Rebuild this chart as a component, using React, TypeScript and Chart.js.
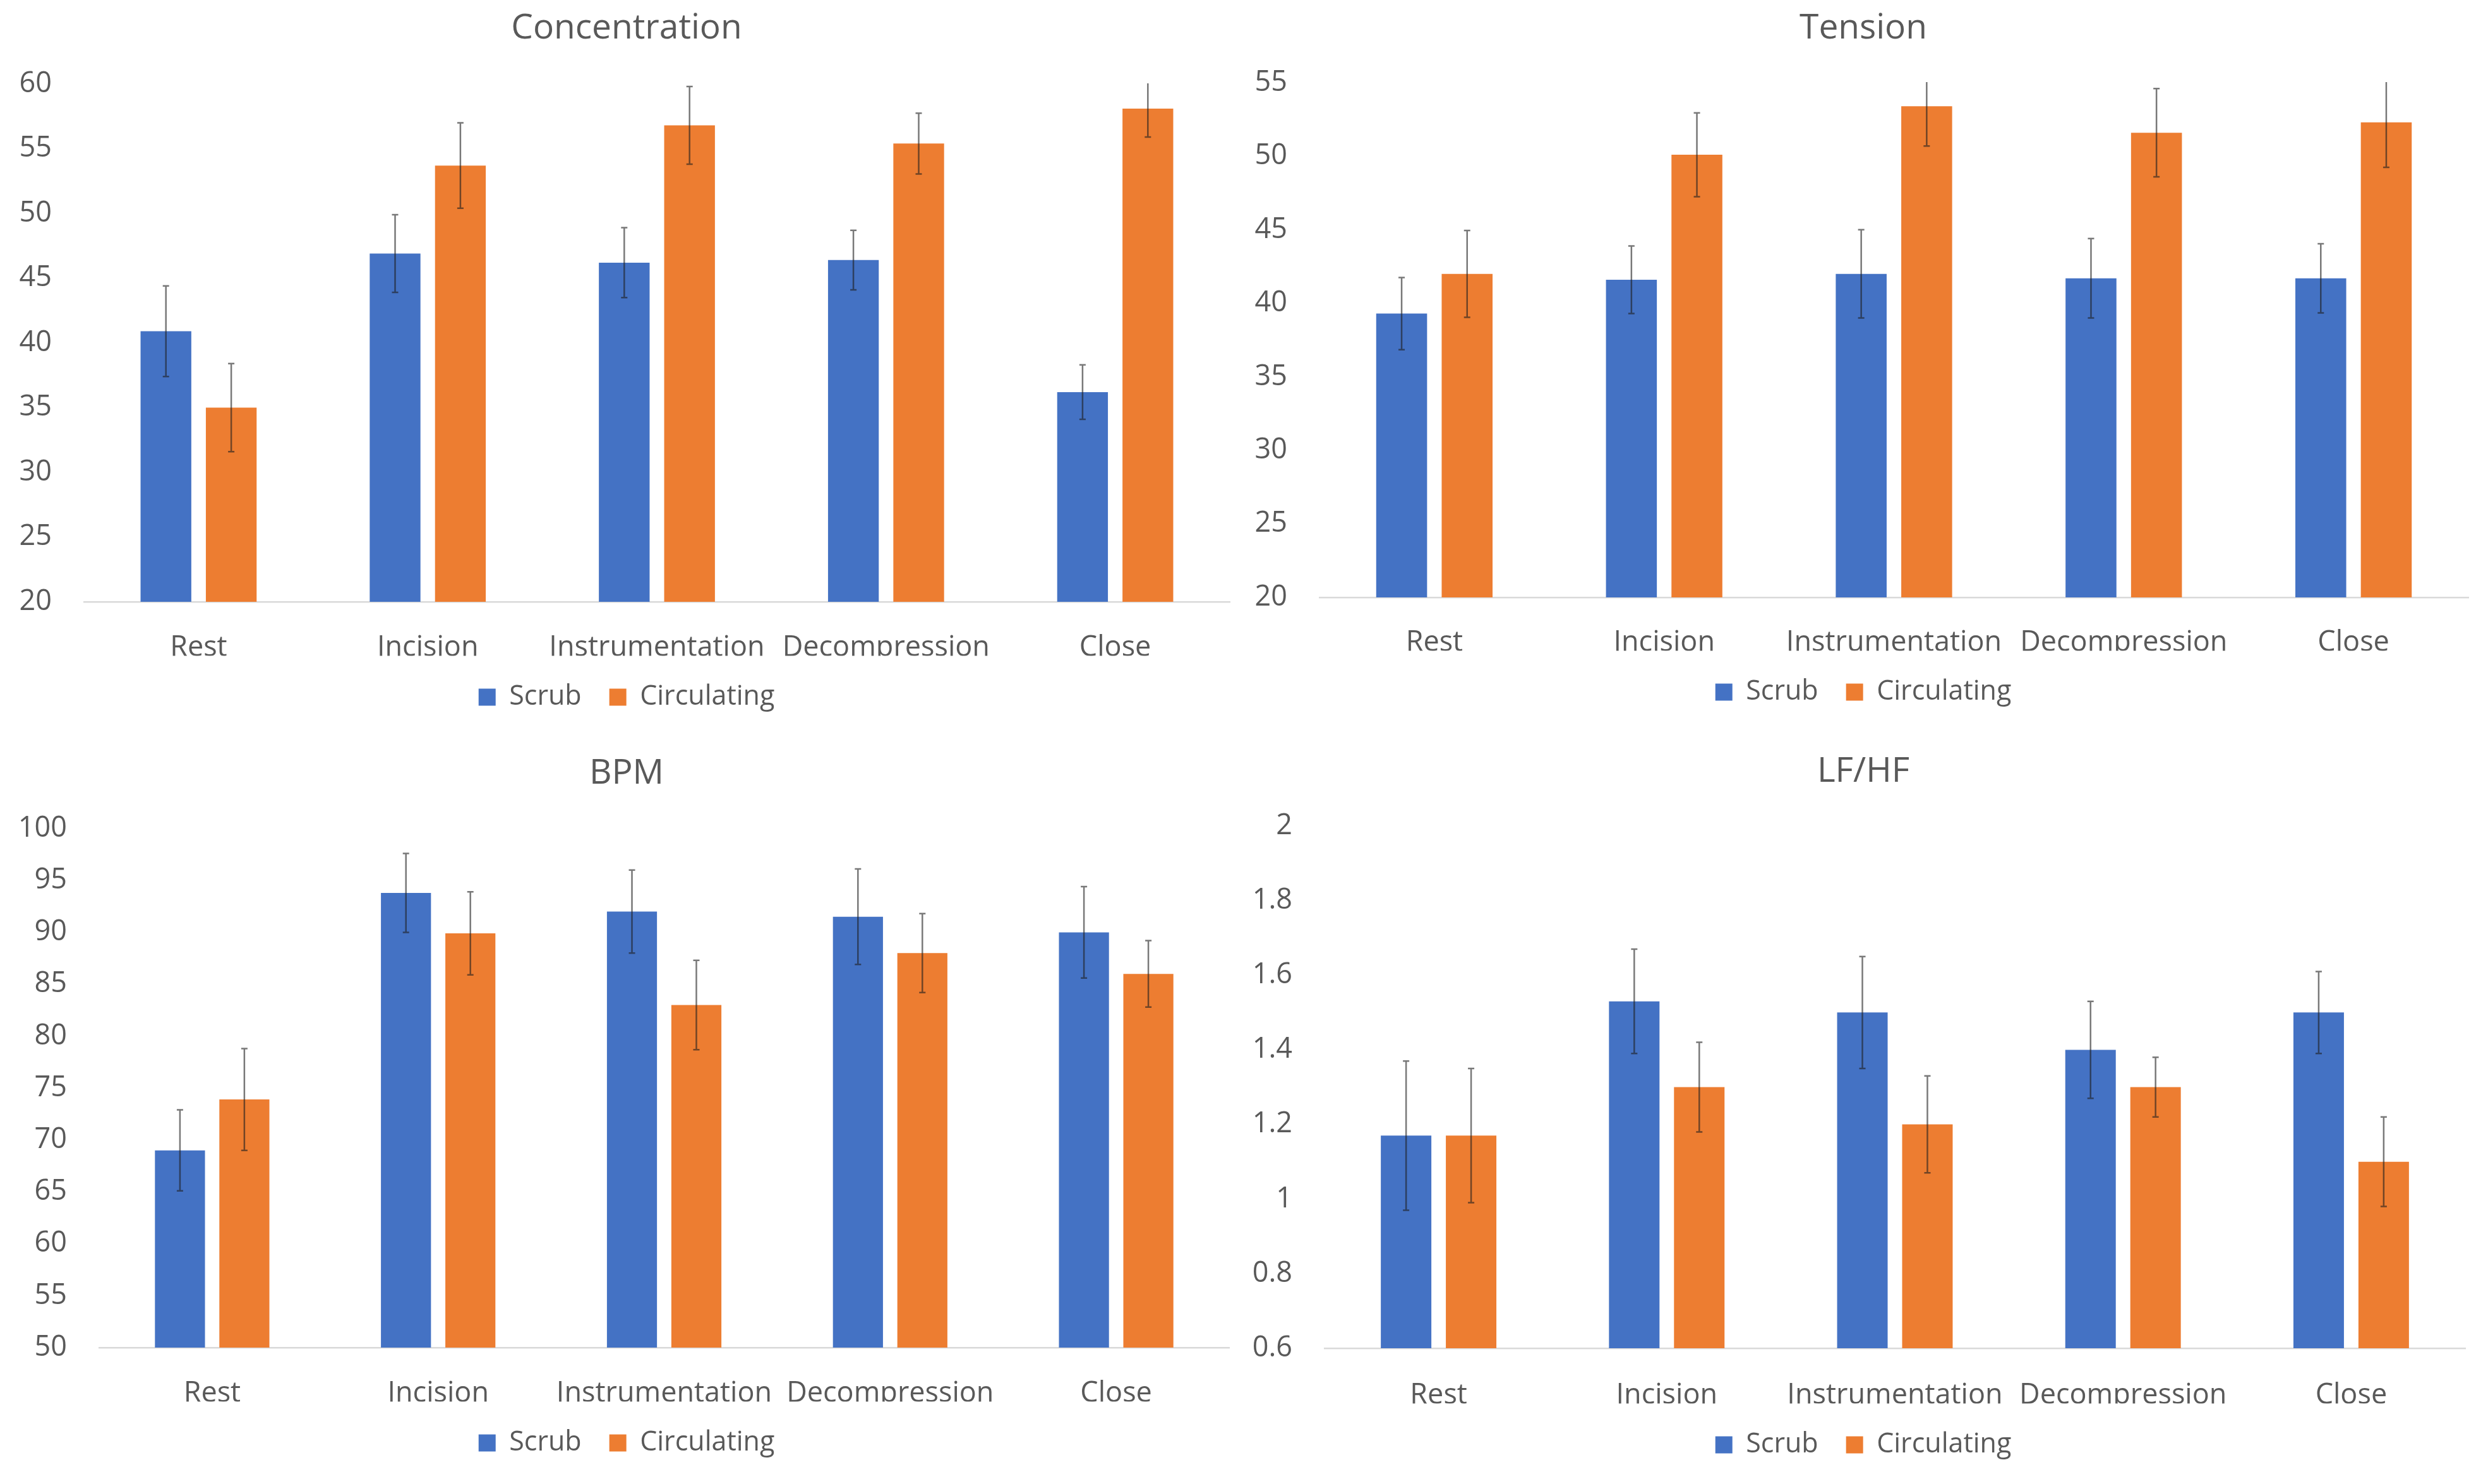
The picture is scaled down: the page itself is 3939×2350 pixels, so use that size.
import React, { useEffect, useRef } from "react";
import { Chart, registerables } from "chart.js";

Chart.register(...registerables);

// ---------- data ----------
const categories = ["Rest", "Incision", "Instrumentation", "Decompression", "Close"];
const seriesNames = ["Scrub", "Circulating"];

const concentrationScrub = [40.9, 46.9, 46.2, 46.4, 36.2];
const concentrationScrubErr = [3.5, 3.0, 2.7, 2.3, 2.1];
const concentrationCirc = [35.0, 53.7, 56.8, 55.4, 58.1];
const concentrationCircErr = [3.4, 3.3, 3.0, 2.35, 2.2];

const tensionScrub = [39.3, 41.6, 42.0, 41.7, 41.7];
const tensionScrubErr = [2.45, 2.3, 3.0, 2.7, 2.35];
const tensionCirc = [42.0, 50.1, 53.4, 51.6, 52.3];
const tensionCircErr = [2.95, 2.85, 2.7, 3.0, 3.05];

const bpmScrub = [69.0, 93.8, 92.0, 91.5, 90.0];
const bpmScrubErr = [3.9, 3.8, 4.0, 4.6, 4.4];
const bpmCirc = [73.9, 89.9, 83.0, 88.0, 86.0];
const bpmCircErr = [4.9, 4.0, 4.3, 3.8, 3.2];

const lfhfScrub = [1.17, 1.53, 1.5, 1.4, 1.5];
const lfhfScrubErr = [0.2, 0.14, 0.15, 0.13, 0.11];
const lfhfCirc = [1.17, 1.3, 1.2, 1.3, 1.1];
const lfhfCircErr = [0.18, 0.12, 0.13, 0.08, 0.12];

const titles = ["Concentration", "Tension", "BPM", "LF/HF"];
const yMins = [20, 20, 50, 0.6];
const yMaxs = [60, 55, 100, 2];
const ySteps = [5, 5, 5, 0.2];

// ---------- style ----------
const FONT = "'Open Sans', 'Noto Sans', sans-serif";
const TEXT = "#595959";
const BLUE = "#4472C4";
const ORANGE = "#ED7D31";
const TITLE_SIZE = 55;
const TICK_SIZE = 45;
const LEGEND_SIZE = 43;
const LEGEND_PAD = 44;
const LH = 1.2;

type Box = {
  cx: number; cy: number; cw: number; ch: number;
  L: number; R: number; T: number; B: number;
  ty: number; xl: number; lg: number;
};

const boxes: Box[] = [
  { cx: 0, cy: 0, cw: 1984, ch: 1175, L: 133, R: 1947, T: 133, B: 953, ty: 45, xl: 1026, lg: 1104 },
  { cx: 1970, cy: 0, cw: 1960, ch: 1175, L: 2089, R: 3908, T: 131, B: 946, ty: 45, xl: 1018, lg: 1096 },
  { cx: 0, cy: 1175, cw: 1984, ch: 1175, L: 157, R: 1946, T: 1312, B: 2134, ty: 1225, xl: 2207, lg: 2285 },
  { cx: 1970, cy: 1175, cw: 1960, ch: 1175, L: 2097, R: 3903, T: 1308, B: 2135, ty: 1222, xl: 2210, lg: 2288 },
];

const seriesData = [
  [concentrationScrub, concentrationCirc],
  [tensionScrub, tensionCirc],
  [bpmScrub, bpmCirc],
  [lfhfScrub, lfhfCirc],
];
const seriesErr = [
  [concentrationScrubErr, concentrationCircErr],
  [tensionScrubErr, tensionCircErr],
  [bpmScrubErr, bpmCircErr],
  [lfhfScrubErr, lfhfCircErr],
];

const errorBarPlugin = {
  id: "errorBars",
  afterDatasetsDraw(chart: any, _args: any, opts: any) {
    const errs = opts && opts.errors;
    if (!errs) return;
    const { ctx, chartArea } = chart;
    const y = chart.scales.y;
    const cap = 5;
    ctx.save();
    ctx.beginPath();
    ctx.rect(chartArea.left, chartArea.top - 1, chartArea.right - chartArea.left, chartArea.bottom - chartArea.top + 1);
    ctx.clip();
    ctx.strokeStyle = "rgba(30,30,30,0.6)";
    ctx.lineWidth = 2.5;
    chart.data.datasets.forEach((ds: any, di: number) => {
      const meta = chart.getDatasetMeta(di);
      meta.data.forEach((bar: any, i: number) => {
        const v = ds.data[i];
        const e = errs[di][i];
        const x = bar.x;
        const yt = y.getPixelForValue(v + e);
        const yb = y.getPixelForValue(v - e);
        ctx.beginPath();
        ctx.moveTo(x, yt);
        ctx.lineTo(x, yb);
        ctx.moveTo(x - cap, yt);
        ctx.lineTo(x + cap, yt);
        ctx.moveTo(x - cap, yb);
        ctx.lineTo(x + cap, yb);
        ctx.stroke();
      });
    });
    ctx.restore();
  },
};

function makeConfig(k: number): any {
  const b = boxes[k];
  const titleLH = TITLE_SIZE * LH;
  const tickLH = TICK_SIZE * LH;
  const titleTop = b.ty - b.cy - titleLH / 2;
  const titleBottom = b.T - b.cy - titleTop - titleLH;
  const xPad = b.xl - b.B - tickLH / 2;
  const legendTop = b.lg - LEGEND_PAD - LEGEND_SIZE / 2;
  const xAxisH = legendTop - b.B;
  const legendH = LEGEND_SIZE + LEGEND_PAD + 10;
  const padBottom = b.cy + b.ch - (legendTop + legendH);
  const yW = b.L - b.cx;
  const rW = b.cx + b.cw - b.R;

  return {
    type: "bar",
    data: {
      labels: categories,
      datasets: [
        {
          label: seriesNames[0],
          data: seriesData[k][0],
          backgroundColor: BLUE,
          borderWidth: 0,
          categoryPercentage: 0.57,
          barPercentage: 0.777,
        },
        {
          label: seriesNames[1],
          data: seriesData[k][1],
          backgroundColor: ORANGE,
          borderWidth: 0,
          categoryPercentage: 0.57,
          barPercentage: 0.777,
        },
      ],
    },
    options: {
      responsive: false,
      animation: false,
      devicePixelRatio: 1,
      layout: { padding: { left: 0, right: 0, top: 0, bottom: padBottom } },
      plugins: {
        title: {
          display: true,
          text: titles[k],
          color: TEXT,
          font: { family: FONT, size: TITLE_SIZE, weight: "normal", lineHeight: LH },
          padding: { top: titleTop, bottom: titleBottom },
        },
        legend: {
          display: true,
          position: "bottom",
          labels: {
            color: TEXT,
            font: { family: FONT, size: LEGEND_SIZE, lineHeight: LH },
            boxWidth: 27,
            boxHeight: 27,
            padding: LEGEND_PAD,
          },
        },
        tooltip: { enabled: false },
        errorBars: { errors: seriesErr[k] },
      },
      scales: {
        x: {
          grid: { display: true, drawOnChartArea: false, drawTicks: false, color: "rgba(0,0,0,0)" },
          border: { display: true, color: "#D9D9D9", width: 2.5 },
          ticks: {
            color: TEXT,
            font: { family: FONT, size: TICK_SIZE, lineHeight: LH },
            padding: xPad,
            maxRotation: 0,
            autoSkip: false,
          },
          afterFit: (s: any) => {
            s.height = xAxisH;
          },
        },
        y: {
          min: yMins[k],
          max: yMaxs[k],
          grid: { display: false, drawTicks: false },
          border: { display: false },
          ticks: {
            stepSize: ySteps[k],
            color: TEXT,
            font: { family: FONT, size: TICK_SIZE, lineHeight: LH },
            padding: 51,
            callback: (v: any) => String(Math.round(Number(v) * 10) / 10),
          },
          afterFit: (s: any) => {
            s.width = yW;
          },
        },
        yR: {
          type: "linear",
          position: "right",
          display: true,
          grid: { display: false, drawTicks: false },
          border: { display: false },
          ticks: { display: false },
          afterFit: (s: any) => {
            s.width = rW;
          },
        },
      },
    },
    plugins: [errorBarPlugin],
  };
}

export default function App() {
  const refs = [useRef<HTMLCanvasElement>(null), useRef<HTMLCanvasElement>(null), useRef<HTMLCanvasElement>(null), useRef<HTMLCanvasElement>(null)];

  useEffect(() => {
    document.body.style.margin = "0";
    const charts: Chart[] = [];
    refs.forEach((r, k) => {
      if (r.current) charts.push(new Chart(r.current, makeConfig(k)));
    });
    return () => {
      charts.forEach((c) => c.destroy());
    };
  }, []);

  return (
    <div style={{ position: "absolute", left: 0, top: 0, width: 3939, height: 2350, background: "#ffffff", overflow: "hidden" }}>
      {boxes.map((b, k) => (
        <canvas
          key={k}
          ref={refs[k]}
          width={b.cw}
          height={b.ch}
          style={{ position: "absolute", left: b.cx, top: b.cy, width: b.cw, height: b.ch }}
        />
      ))}
    </div>
  );
}
